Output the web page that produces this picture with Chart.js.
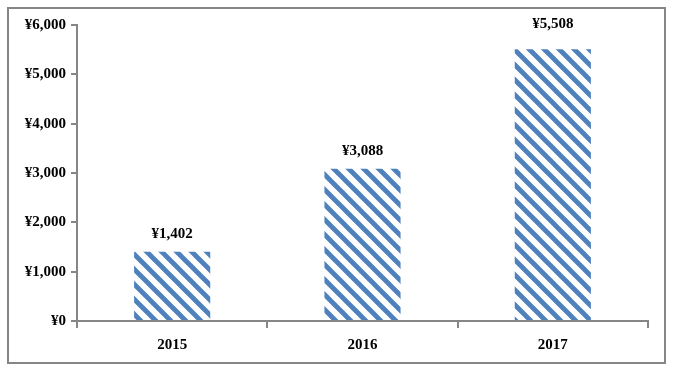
<!DOCTYPE html>
<html>
<head>
<meta charset="utf-8">
<script src="https://cdn.jsdelivr.net/npm/chart.js@4/dist/chart.umd.min.js"></script>
<style>
  html, body { margin: 0; padding: 0; background: #fff; }
  #wrap { width: 683px; height: 370px; }
</style>
</head>
<body>
<div id="wrap"><canvas id="chart" width="683" height="370"></canvas></div>
<script>
// values
const years = ['2015', '2016', '2017'];
const amounts = [1402, 3088, 5508];
const yTicks = [0, 1000, 2000, 3000, 4000, 5000, 6000];

const axisGray = '#868686';
const barBlue = '#4F81BD';
const fontFamily = '"Liberation Serif", "Times New Roman", serif';

const yen = v => '¥' + v.toLocaleString('en-US');

// diagonal stripe fill, top-left to bottom-right
function makeStripes() {
    const s = 15;
    const c = document.createElement('canvas');
    c.width = s;
    c.height = s;
    const g = c.getContext('2d');
    g.fillStyle = '#fff';
    g.fillRect(0, 0, s, s);
    g.strokeStyle = barBlue;
    g.lineWidth = 4.8;
    g.beginPath();
    g.moveTo(-s, -s); g.lineTo(2 * s, 2 * s);
    g.moveTo(-s, 0); g.lineTo(s, 2 * s);
    g.moveTo(0, -s); g.lineTo(2 * s, s);
    g.stroke();
    return g.createPattern(c, 'repeat');
}

// outer frame round the whole chart
const framePlugin = {
    id: 'frame',
    beforeDraw(chart) {
        const ctx = chart.ctx;
        ctx.save();
        ctx.fillStyle = '#fff';
        ctx.fillRect(0, 0, chart.width, chart.height);
        ctx.strokeStyle = axisGray;
        ctx.lineWidth = 2;
        ctx.strokeRect(8, 8, 657, 355);
        ctx.restore();
    }
};

// value labels above each bar; a label that would crowd the top sits at the top edge
const valueLabels = {
    id: 'valueLabels',
    afterDatasetsDraw(chart) {
        const ctx = chart.ctx;
        const meta = chart.getDatasetMeta(0);
        const top = chart.chartArea.top;
        ctx.save();
        ctx.font = 'bold 15px ' + fontFamily;
        ctx.fillStyle = '#000';
        ctx.textAlign = 'center';
        ctx.textBaseline = 'alphabetic';
        meta.data.forEach((bar, i) => {
            let y = bar.y - 14;
            if (y - top < 20) y = top + 3;
            ctx.fillText(yen(amounts[i]), bar.x, y);
        });
        ctx.restore();
    }
};

new Chart(document.getElementById('chart'), {
    type: 'bar',
    data: {
        labels: years,
        datasets: [{
            data: amounts,
            backgroundColor: makeStripes(),
            borderWidth: 0,
            barPercentage: 0.4,
            categoryPercentage: 1.0
        }]
    },
    options: {
        responsive: false,
        animation: false,
        layout: { padding: { top: 25, right: 35, left: 0, bottom: 0 } },
        plugins: {
            legend: { display: false },
            tooltip: { enabled: false }
        },
        scales: {
            x: {
                offset: true,
                grid: {
                    offset: true,
                    drawOnChartArea: false,
                    color: axisGray,
                    lineWidth: 2,
                    tickLength: 7
                },
                border: { color: axisGray, width: 2 },
                ticks: {
                    color: '#000',
                    padding: 8,
                    font: { family: fontFamily, size: 15, weight: 'bold' }
                },
                afterFit(scale) { scale.height = 49; }
            },
            y: {
                min: 0,
                max: 6000,
                afterBuildTicks(scale) {
                    scale.ticks = yTicks.map(v => ({ value: v }));
                },
                grid: {
                    drawOnChartArea: false,
                    color: axisGray,
                    lineWidth: 2,
                    tickLength: 6
                },
                border: { color: axisGray, width: 2 },
                ticks: {
                    color: '#000',
                    padding: 5,
                    callback: v => yen(v),
                    font: { family: fontFamily, size: 15, weight: 'bold' }
                },
                afterFit(scale) { scale.width = 77; }
            }
        }
    },
    plugins: [framePlugin, valueLabels]
});
</script>
</body>
</html>
